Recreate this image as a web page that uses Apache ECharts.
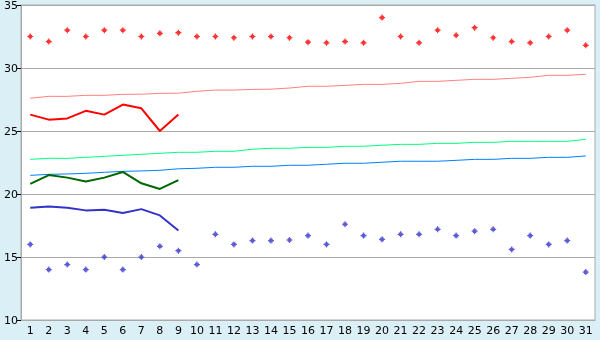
<!DOCTYPE html>
<html><head><meta charset="utf-8">
<script src="https://cdn.jsdelivr.net/npm/echarts@6/dist/echarts.min.js"></script>
<style>html,body{margin:0;padding:0;background:#daeff6}#c{width:600px;height:340px}</style>
</head><body><div id="c"></div>
<script>
const days = Array.from({length:31},(_,i)=>String(i+1));
const maxRecord = [32.5,32.1,33.0,32.5,33.0,33.0,32.5,32.75,32.8,32.5,32.5,32.4,32.5,32.5,32.4,32.05,32.0,32.1,32.0,34.0,32.5,32.0,33.0,32.6,33.2,32.4,32.1,32.0,32.5,33.0,31.8];
const minRecord = [16.0,14.0,14.4,14.0,15.0,14.0,15.0,15.85,15.5,14.4,16.8,16.0,16.3,16.3,16.35,16.7,16.0,17.6,16.7,16.4,16.8,16.8,17.2,16.7,17.05,17.2,15.6,16.7,16.0,16.3,13.8];
const maxActual = [26.3,25.9,26.0,26.6,26.3,27.1,26.8,25.0,26.3];
const meanActual = [20.8,21.5,21.3,21.0,21.3,21.75,20.85,20.4,21.1];
const minActual = [18.9,19.0,18.9,18.7,18.75,18.5,18.8,18.3,17.1];
const maxNormal = [27.6,27.75,27.75,27.83,27.83,27.91,27.92,27.99,28.0,28.15,28.25,28.25,28.3,28.32,28.41,28.55,28.55,28.62,28.7,28.7,28.78,28.94,28.94,29.02,29.1,29.1,29.18,29.26,29.42,29.42,29.5];
const meanNormal = [22.75,22.83,22.83,22.91,22.99,23.07,23.15,23.23,23.31,23.31,23.39,23.39,23.55,23.63,23.63,23.7,23.7,23.79,23.79,23.87,23.94,23.94,24.02,24.02,24.1,24.1,24.18,24.18,24.18,24.18,24.34];
const minNormal = [21.48,21.56,21.59,21.64,21.72,21.8,21.83,21.88,22.0,22.04,22.12,22.12,22.2,22.2,22.28,22.28,22.36,22.44,22.44,22.52,22.6,22.6,22.6,22.67,22.75,22.75,22.83,22.83,22.91,22.91,23.02];
const yTicks = [10,15,20,25,30,35];

const chart = echarts.init(document.getElementById('c'), null, {renderer:'canvas'});
const font = 'DejaVu Sans';
const marker = 'path://M2,0H3V1H4V2H5V3H4V4H3V5H2V4H1V3H0V2H1V1H2Z';
function line(data,color,w){return {type:'line',data,symbol:'none',lineStyle:{color,width:w},itemStyle:{color},animation:false,silent:true,z:3};}
function pts(data,color){return {type:'scatter',data,symbol:marker,symbolSize:6,itemStyle:{color},animation:false,silent:true,z:4};}
chart.setOption({
  backgroundColor:'#daeff6',
  animation:false,
  grid:{left:21,right:5,top:5,bottom:20,outerBoundsMode:'none',containLabel:false,show:true,backgroundColor:'#ffffff',borderColor:'#aaaaaa',borderWidth:1},
  xAxis:{type:'category',data:days,boundaryGap:true,
    axisLine:{lineStyle:{color:'#aaaaaa'}},
    axisTick:{alignWithLabel:true,length:5,lineStyle:{color:'#000'}},
    axisLabel:{color:'#000',fontFamily:font,fontSize:11,margin:6,interval:0},
    splitLine:{show:false}},
  yAxis:{type:'value',min:yTicks[0],max:yTicks[yTicks.length-1],interval:5,
    axisLine:{show:true,lineStyle:{color:'#aaaaaa'}},
    axisTick:{show:true,length:4,lineStyle:{color:'#000'}},
    axisLabel:{margin:3,formatter:'{v|{value}}',
      rich:{v:{color:'#000',fontFamily:font,fontSize:11,lineHeight:12,padding:[3,0,0,0]}}},
    splitLine:{lineStyle:{color:'#aaaaaa',width:1}}},
  series:[
    line(maxNormal,'#ff8080',1),
    line(meanNormal,'#00ff80',1),
    line(minNormal,'#0080ff',1),
    line(maxActual,'#ff0000',2),
    line(meanActual,'#006600',2),
    line(minActual,'#3333cc',2),
    pts(maxRecord,'#ff0000'),
    pts(minRecord,'#3333cc')
  ]
});
</script></body></html>
